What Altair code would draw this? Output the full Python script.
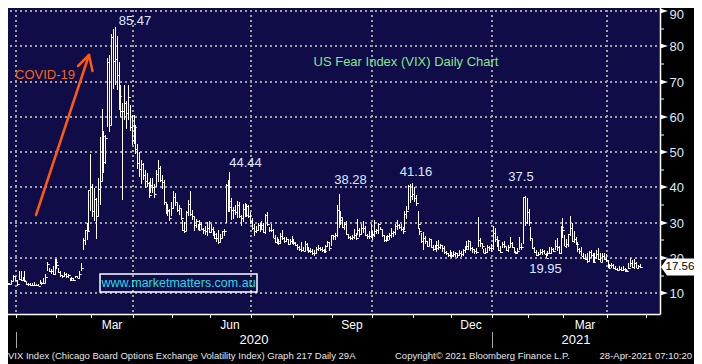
import altair as alt
import numpy as np
import pandas as pd

# ---------------- data ----------------
HOLIDAYS = ["2019-12-25", "2020-01-01", "2020-01-20", "2020-02-17", "2020-04-10",
            "2020-05-25", "2020-07-03", "2020-09-07", "2020-11-26", "2020-12-25",
            "2021-01-01", "2021-01-18", "2021-02-15", "2021-04-02"]

HIGH = [
    12.9, 12.9, 12.9, 12.9, 12.9, 13.9, 15.2, 15.0,
    13.8, 16.2, 16.4, 14.5, 16.2, 13.1, 13.0, 12.9, 12.9, 13.3, 12.6, 12.6, 13.9, 13.2, 14.2, 15.5, 19.0, 17.3, 16.9, 17.6, 19.6,
    19.8, 17.3, 16.3, 15.3, 16.0, 15.7, 15.6, 14.4, 14.7, 14.3, 15.0, 14.9, 16.3, 18.6, 25.8, 28.0, 30.0, 39.2, 49.5,
    41.0, 39.9, 37.0, 42.8, 54.4, 62.1, 56.0, 55.0, 76.8, 77.6, 83.6, 84.8, 85.47, 83.0, 75.5, 69.0, 64.0, 69.0, 64.5, 69.0, 63.5, 60.6,
    60.6, 57.6, 52.3, 50.0, 47.8, 47.0, 44.8, 44.0, 41.5, 42.6, 42.6, 41.0, 45.0, 47.8, 46.2, 43.5, 42.0, 36.0, 35.4, 33.8, 35.9,
    39.0, 38.3, 35.5, 35.0, 34.0, 30.7, 30.2, 33.3, 36.5, 38.9, 33.5, 31.6, 31.0, 29.5, 30.8, 30.2, 28.5, 29.2, 30.2, 30.4,
    29.5, 28.9, 27.6, 27.0, 28.0, 26.7, 27.6, 28.2, 41.1, 42.0, 44.44, 36.9, 34.4, 35.1, 36.2, 35.9, 32.1, 35.2, 35.7, 35.2, 35.1, 33.0,
    31.2, 29.5, 29.0, 30.0, 29.8, 30.4, 30.0, 32.5, 33.0, 28.8, 29.7, 28.1, 26.6, 26.0, 25.3, 27.1, 28.0, 26.0, 25.9, 25.4, 25.5, 26.2,
    25.3, 24.5, 24.0, 23.3, 24.4, 23.1, 24.8, 24.2, 23.0, 22.8, 22.6, 22.3, 23.1, 23.7, 23.2, 23.0, 22.6, 23.6, 24.9, 24.4, 26.5,
    26.5, 27.0, 35.0, 38.28, 33.3, 31.3, 30.3, 30.6, 26.8, 26.3, 26.6, 28.2, 27.0, 31.1, 28.5, 29.6, 30.6, 29.2, 26.9, 27.6, 29.7,
    27.6, 30.9, 28.3, 29.9, 28.9, 28.3, 26.5, 26.2, 26.5, 27.2, 28.6, 27.6, 29.7, 30.7, 29.7, 29.5, 28.7, 33.2, 34.8, 40.8, 41.1, 41.16,
    40.0, 37.8, 33.4, 28.5, 27.0, 27.3, 26.2, 24.9, 25.8, 25.4, 23.6, 23.7, 24.7, 25.1, 24.1, 23.6, 23.3, 22.1, 21.4, 22.2,
    21.7, 22.0, 21.8, 21.5, 22.2, 22.0, 22.6, 23.3, 24.7, 25.2, 24.6, 23.2, 22.5, 22.9, 31.6, 25.7, 24.3, 22.6, 22.9, 23.6, 23.5, 24.0,
    29.2, 28.6, 26.2, 25.1, 23.5, 24.5, 24.9, 23.2, 23.6, 25.9, 24.6, 22.7, 22.0, 22.7, 26.0, 24.2, 37.3, 37.5, 37.0,
    34.0, 28.9, 25.3, 23.0, 22.3, 21.8, 22.6, 22.6, 22.4, 21.5, 21.9, 23.0, 23.2, 22.7, 25.1, 25.6, 23.4, 29.0, 31.3,
    26.5, 25.3, 26.9, 31.9, 30.0, 27.7, 25.9, 24.5, 22.7, 23.0, 21.4, 21.2, 21.3, 22.0, 22.2, 21.4, 21.3, 22.3, 22.9, 21.3, 21.5, 21.4, 21.2,
    19.3, 18.3, 18.6, 18.2, 17.6, 17.3, 17.7, 17.5, 17.6, 17.3, 16.9, 18.7, 20.0, 19.5, 19.7, 18.9, 18.0, 18.2,
]

LOW = [
    12.2, 12.2, 12.1, 12.4, 12.3, 12.6, 13.4, 13.6,
    12.2, 13.9, 13.6, 13.4, 13.3, 12.4, 12.2, 12.2, 12.2, 12.2, 12.1, 12.0, 12.6, 12.3, 12.6, 12.8, 16.2, 16.1, 15.4, 15.3, 15.1,
    17.0, 15.8, 14.6, 14.4, 14.6, 14.3, 14.4, 13.4, 13.5, 13.4, 14.3, 14.2, 14.0, 16.4, 22.3, 23.8, 25.0, 27.6, 33.3,
    31.5, 30.5, 25.5, 32.0, 35.0, 41.9, 44.0, 46.7, 57.0, 55.6, 57.7, 68.0, 69.0, 67.5, 62.0, 60.0, 36.4, 59.0, 56.5, 59.0, 56.0, 52.0,
    52.3, 49.5, 45.1, 43.0, 41.1, 42.0, 39.8, 40.0, 37.0, 38.5, 38.3, 37.0, 40.0, 41.6, 41.5, 39.5, 35.0, 32.5, 32.0, 30.5, 32.0,
    34.0, 34.7, 33.1, 32.3, 30.9, 27.6, 27.1, 27.7, 32.0, 32.0, 30.8, 27.6, 28.5, 27.9, 27.8, 28.0, 26.8, 26.5, 26.3, 27.1,
    27.5, 26.3, 25.3, 24.6, 23.9, 24.5, 25.6, 26.3, 30.0, 33.1, 33.0, 30.9, 31.1, 32.2, 31.4, 31.3, 29.0, 30.2, 31.5, 31.6, 31.3, 29.6,
    28.0, 26.3, 27.2, 27.7, 27.4, 28.1, 27.0, 26.8, 29.2, 27.4, 27.5, 25.6, 24.3, 23.9, 23.8, 24.1, 25.0, 24.3, 24.4, 23.8, 24.0, 24.1,
    23.6, 23.4, 22.4, 21.9, 21.6, 21.9, 21.9, 22.1, 21.5, 21.5, 20.9, 20.6, 21.0, 22.0, 21.9, 21.6, 21.4, 21.4, 23.0, 22.0, 23.5,
    25.0, 25.0, 26.0, 28.5, 29.3, 28.5, 27.9, 26.4, 25.4, 25.1, 25.0, 25.3, 25.0, 26.5, 26.0, 26.4, 27.0, 26.1, 25.5, 25.5, 25.8,
    25.0, 26.0, 26.9, 26.7, 27.8, 25.9, 24.5, 24.5, 25.0, 25.2, 25.8, 25.9, 26.5, 27.8, 28.2, 27.6, 26.7, 28.0, 31.0, 33.5, 35.6, 36.5,
    36.0, 34.8, 28.1, 26.5, 24.3, 22.4, 23.9, 23.1, 23.4, 22.8, 21.9, 22.2, 21.8, 22.4, 22.6, 21.7, 21.0, 20.8, 20.3, 20.2,
    20.1, 20.4, 20.3, 20.0, 20.7, 20.4, 20.6, 21.3, 22.2, 22.4, 22.1, 21.4, 21.1, 21.0, 23.2, 23.0, 22.6, 21.3, 21.1, 21.5, 22.1, 21.7,
    22.4, 24.5, 23.0, 22.1, 21.4, 22.8, 22.7, 21.9, 21.6, 23.1, 22.7, 21.3, 21.0, 21.2, 22.4, 22.3, 24.1, 29.1, 29.5,
    29.0, 24.7, 22.6, 21.5, 20.6, 20.7, 21.0, 20.9, 21.1, 19.95, 20.6, 21.2, 21.0, 21.6, 22.2, 22.0, 21.1, 21.1, 25.6,
    23.3, 22.8, 23.2, 26.1, 24.6, 24.3, 23.7, 21.6, 21.1, 20.5, 19.7, 19.5, 18.6, 19.0, 20.0, 18.6, 18.8, 19.6, 19.5, 18.8, 19.0, 19.3, 18.9,
    17.1, 17.3, 17.3, 17.0, 16.6, 16.3, 16.5, 16.2, 16.4, 16.0, 15.9, 16.8, 17.4, 17.1, 17.0, 17.2, 17.0, 17.2,
]

CLOSE = [
    12.5, 12.5, 12.6, 12.7, 12.7, 13.4, 14.8, 13.8,
    12.5, 14.0, 13.9, 13.8, 13.5, 12.5, 12.6, 12.3, 12.4, 12.4, 12.3, 12.1, 12.9, 12.9, 13.0, 14.6, 18.2, 16.3, 16.4, 15.5, 18.8,
    18.0, 16.1, 15.2, 15.0, 15.5, 15.0, 15.2, 13.7, 14.2, 13.7, 14.8, 14.4, 15.6, 17.1, 25.0, 27.9, 27.6, 39.2, 40.1,
    33.4, 36.8, 32.0, 39.6, 41.9, 54.5, 47.3, 53.9, 75.5, 57.8, 82.7, 75.9, 76.5, 72.0, 66.0, 61.6, 61.7, 64.0, 61.0, 65.5, 57.1, 53.5,
    57.1, 50.9, 46.8, 45.2, 46.7, 43.4, 41.7, 41.2, 37.8, 40.8, 40.1, 38.2, 43.8, 45.4, 42.0, 41.4, 35.9, 33.3, 33.6, 31.2, 34.2,
    37.2, 36.0, 33.6, 34.1, 31.4, 28.0, 27.6, 33.0, 35.3, 32.6, 31.9, 29.3, 30.5, 28.0, 29.5, 28.2, 28.0, 27.6, 28.6, 27.5,
    28.2, 26.8, 25.7, 25.8, 24.5, 25.8, 27.6, 27.6, 40.8, 36.1, 34.4, 33.7, 33.5, 32.9, 35.1, 31.8, 31.4, 33.8, 32.2, 34.7, 31.8, 30.4,
    28.6, 27.7, 27.9, 29.4, 28.1, 29.3, 27.3, 32.2, 29.5, 27.8, 28.0, 25.7, 24.5, 24.8, 24.3, 26.1, 25.8, 24.7, 25.4, 24.1, 24.8, 24.5,
    24.3, 23.8, 23.0, 22.6, 22.2, 22.1, 24.0, 22.3, 22.1, 22.1, 21.4, 21.5, 22.5, 22.7, 22.5, 22.4, 22.0, 23.3, 24.5, 22.96, 26.4,
    26.1, 26.6, 33.6, 30.8, 31.5, 28.8, 29.7, 26.9, 25.9, 25.6, 26.0, 26.5, 25.8, 27.8, 26.9, 28.6, 28.5, 26.4, 26.2, 26.3, 26.4,
    26.7, 27.6, 28.0, 29.5, 28.1, 26.4, 25.0, 25.1, 26.1, 26.4, 27.0, 27.4, 29.2, 29.4, 28.7, 28.1, 27.6, 32.5, 33.4, 40.3, 37.6, 38.0,
    37.1, 35.6, 29.6, 27.6, 24.9, 25.8, 24.8, 23.5, 25.4, 23.1, 22.5, 22.7, 23.8, 23.1, 23.7, 22.7, 21.6, 21.3, 20.8, 20.6,
    20.8, 21.2, 21.3, 20.8, 21.3, 21.0, 22.3, 22.5, 23.3, 24.7, 22.9, 22.5, 21.9, 21.6, 25.2, 24.2, 23.3, 21.5, 21.7, 23.1, 22.8, 22.75,
    26.97, 25.3, 25.1, 22.4, 21.6, 24.1, 23.3, 22.2, 23.25, 24.3, 23.2, 21.6, 21.3, 21.9, 23.2, 23.0, 37.2, 30.2, 33.1,
    30.2, 25.6, 22.9, 21.8, 20.9, 21.2, 21.6, 21.99, 21.25, 19.97, 21.5, 21.5, 22.5, 22.05, 23.45, 23.1, 21.3, 28.9, 27.95,
    23.35, 24.1, 26.7, 28.6, 24.7, 25.5, 24.0, 22.6, 21.9, 20.7, 20.0, 19.8, 19.2, 21.6, 20.95, 18.9, 20.3, 21.2, 19.8, 18.9, 20.7, 19.6, 19.4,
    17.3, 17.9, 18.1, 17.2, 16.95, 16.7, 16.9, 16.65, 16.99, 16.57, 16.25, 17.3, 18.7, 17.5, 18.7, 17.3, 17.6, 17.56,
]

ANN_DATES = ["2020-03-18", "2020-06-15", "2020-09-04", "2020-10-30", "2021-01-28", "2021-02-12"]
ANN_VALUES = [85.47, 44.44, 38.28, 41.16, 37.5, 19.95]
ANN_TEXT = ["85.47", "44.44", "38.28", "41.16", "37.5", "19.95"]
ANN_DX = [20, 16.5, 11.5, 4, -4, -0.5]
ANN_DY = [-6, -9, -14.5, -11.5, -19, 11]

Y_TICKS = [10, 20, 30, 40, 50, 60, 70, 80, 90]
Y_MINOR = [15, 25, 35, 45, 55, 65, 75, 85]
LAST_PRICE = [17.56]
LAST_LABEL = ["17.56"]
MONTH_LABELS = {(2020, 3): "Mar", (2020, 6): "Jun", (2020, 9): "Sep", (2020, 12): "Dec", (2021, 3): "Mar"}
YEAR_LABELS = ["2020", "2021"]

TITLE = "US Fear Index (VIX) Daily Chart"
COVID = "COVID-19"
SITE = "www.marketmatters.com.au"
FOOT_LEFT = "VIX Index (Chicago Board Options Exchange Volatility Index) Graph 217  Daily 29A"
FOOT_MID = "Copyright\u00a9 2021 Bloomberg Finance L.P."
FOOT_RIGHT = "28-Apr-2021 07:10:20"

# ---------------- styles ----------------
NAVY = "#0f0c48"
GRID = "#a0a0a0"
LABEL = "#dde8ff"
ORANGE = "#f5661a"
REG = "Liberation Sans, Arial, sans-serif"
W, H = 660, 314
PX_PER_DAY = 1.881

# ---------------- trading calendar ----------------
cal = pd.bdate_range("2019-12-19", "2021-05-14")
cal = cal[~cal.isin(pd.to_datetime(HOLIDAYS))]
n = min(len(HIGH), len(LOW), len(CLOSE))
bars = pd.DataFrame({"t": np.arange(n), "high": HIGH[:n], "low": LOW[:n], "close": CLOSE[:n]})
index_of = {d: i for i, d in enumerate(cal)}

bounds = {}
for i in range(1, len(cal)):
    if cal[i].month != cal[i - 1].month:
        bounds[(cal[i].year, cal[i].month)] = i - 0.5

X0 = bounds[(2020, 1)] - 16 / PX_PER_DAY
X1 = X0 + W / PX_PER_DAY
Y_TOP = 90 + 11 / 3.529
Y_BOT = 10 - 20.7 / 3.529

xs = alt.Scale(domain=[X0, X1], nice=False, zero=False, round=True)
ys = alt.Scale(domain=[Y_BOT, Y_TOP], nice=False, zero=False, round=True)
x_axis = alt.Axis(labels=False, ticks=False, grid=False, domainColor="white", domainWidth=1.5, title=None)
y_axis = alt.Axis(orient="right", values=Y_TICKS, grid=False, ticks=False, labelColor=LABEL, labelFont=REG,
                  labelFontSize=13, labelPadding=9, domainColor="white", domainWidth=1.5, title=None,
                  labelOffset={"condition": {"test": "datum.value == 90", "value": 3}, "value": 0})


def X(f):
    return alt.X(f + ":Q", scale=xs, axis=x_axis)


def Y(f):
    return alt.Y(f + ":Q", scale=ys, axis=y_axis)


one = pd.DataFrame({"a": [0]})
layers = []

# gridlines
hgrid = pd.DataFrame({"v": Y_TICKS})
layers.append(alt.Chart(hgrid).mark_rule(color=GRID, strokeWidth=2, strokeDash=[2, 3]).encode(
    y=Y("v"), x=alt.value(0), x2=alt.value(658)))
qgrid = pd.DataFrame({"t": [v for (yy, m), v in bounds.items() if m in (1, 4, 7, 10) and v < X1]})
layers.append(alt.Chart(qgrid).mark_rule(color=GRID, strokeWidth=2, strokeDash=[2, 3]).encode(
    x=X("t"), y=alt.value(0), y2=alt.value(H)))

# price bars (high-low rule + close tick)
layers.append(alt.Chart(bars).mark_rule(color="white", strokeWidth=1, xOffset=0.5).encode(
    x=X("t"), y=Y("low"), y2="high:Q"))
layers.append(alt.Chart(bars).mark_tick(orient="horizontal", color="white", size=2, thickness=1, xOffset=1.75,
                                        yOffset=0.5, opacity=1).encode(x=X("t"), y=Y("close")))

# peak annotations
for d, v, s, dx, dy in zip(ANN_DATES, ANN_VALUES, ANN_TEXT, ANN_DX, ANN_DY):
    adf = pd.DataFrame({"t": [index_of[pd.Timestamp(d)]], "v": [v], "s": [s]})
    layers.append(alt.Chart(adf).mark_text(font=REG, fontSize=13, color=LABEL, dx=dx, dy=dy,
                                           align="center", baseline="middle").encode(
        x=X("t"), y=Y("v"), text="s:N"))

# right axis decorations
layers.append(alt.Chart(pd.DataFrame({"v": Y_MINOR})).mark_rule(color="white", strokeWidth=1).encode(
    y=Y("v"), x=alt.value(660), x2=alt.value(664)))
layers.append(alt.Chart(hgrid).mark_point(shape="M0,-2.6L8,0L0,2.6Z", size=4, filled=True, color="white",
                                          opacity=1, strokeWidth=0).encode(y=Y("v"), x=alt.value(660)))
lp = pd.DataFrame({"v": LAST_PRICE, "s": LAST_LABEL})
layers.append(alt.Chart(lp).mark_point(shape="M0,0L6,-8.5L33,-8.5L33,8.5L6,8.5Z", size=4, filled=True,
                                       color="white", opacity=1, strokeWidth=0).encode(y=Y("v"), x=alt.value(661)))
layers.append(alt.Chart(lp).mark_text(font=REG, fontSize=11.5, color="black", align="left", baseline="middle").encode(
    y=Y("v"), x=alt.value(665.5), text="s:N"))

# bottom axis
mt = pd.DataFrame({"t": [v for v in bounds.values() if v < X1]})
layers.append(alt.Chart(mt).mark_rule(color="white", strokeWidth=1, xOffset=0.5).encode(
    x=X("t"), y=alt.value(H), y2=alt.value(318)))
ml = pd.DataFrame({"t": [(bounds[k] + bounds[(k[0] + (k[1] == 12), k[1] % 12 + 1)]) / 2 for k in MONTH_LABELS],
                   "s": list(MONTH_LABELS.values())})
layers.append(alt.Chart(ml).mark_text(font=REG, fontSize=12, color="white", baseline="middle").encode(
    x=X("t"), y=alt.value(325), text="s:N"))
yl = pd.DataFrame({"t": [(bounds[(2020, 1)] + bounds[(2021, 1)]) / 2, (bounds[(2021, 1)] + X1) / 2], "s": YEAR_LABELS})
layers.append(alt.Chart(yl).mark_text(font=REG, fontSize=13, color="white", baseline="middle").encode(
    x=X("t"), y=alt.value(340), text="s:N"))
ysep = pd.DataFrame({"t": [bounds[(2020, 1)], bounds[(2021, 1)]]})
layers.append(alt.Chart(ysep).mark_rule(color="#a8a8a8", strokeWidth=1, xOffset=0.5).encode(
    x=X("t"), y=alt.value(332), y2=alt.value(348)))

# free annotations
layers.append(alt.Chart(one).mark_text(text=TITLE, font=REG, fontSize=13, color="#86e58c").encode(
    x=alt.value(406), y=alt.value(62)))
layers.append(alt.Chart(one).mark_text(text=COVID, font=REG, fontSize=13, color=ORANGE).encode(
    x=alt.value(45), y=alt.value(75)))
for (x1, y1, x2, y2) in [(36, 215, 89, 55), (89, 55, 78, 66), (89, 55, 92.5, 71)]:
    layers.append(alt.Chart(one).mark_rule(color="#ff5a12", strokeWidth=2.5, strokeCap="round").encode(
        x=alt.value(x1), y=alt.value(y1), x2=alt.value(x2), y2=alt.value(y2)))
layers.append(alt.Chart(one).mark_rect(fillOpacity=0, stroke="white", strokeWidth=1.5).encode(
    x=alt.value(100), x2=alt.value(257), y=alt.value(274), y2=alt.value(292)))
layers.append(alt.Chart(one).mark_text(text=SITE, font=REG, fontSize=12.5, color="#22dde6").encode(
    x=alt.value(178.5), y=alt.value(283)))

# footer
FOOT_Y = 356
layers.append(alt.Chart(one).mark_text(text=FOOT_LEFT, font=REG, fontSize=9.5, color="#e6e6e6", align="left").encode(
    x=alt.value(8), y=alt.value(FOOT_Y)))
layers.append(alt.Chart(one).mark_text(text=FOOT_MID, font=REG, fontSize=9.5, color="#e6e6e6", align="left").encode(
    x=alt.value(395), y=alt.value(FOOT_Y)))
layers.append(alt.Chart(one).mark_text(text=FOOT_RIGHT, font=REG, fontSize=9.5, color="#e6e6e6", align="right").encode(
    x=alt.value(692), y=alt.value(FOOT_Y)))

chart = alt.layer(*layers).properties(
    width=W, height=H,
    autosize=alt.AutoSizeParams(type="none"),
    padding={"left": -8, "top": -8, "right": 34, "bottom": 50},
    background="black",
).configure_view(fill=NAVY, strokeWidth=0)

chart.save("out.html", embed_options={"renderer": "svg", "actions": False})
